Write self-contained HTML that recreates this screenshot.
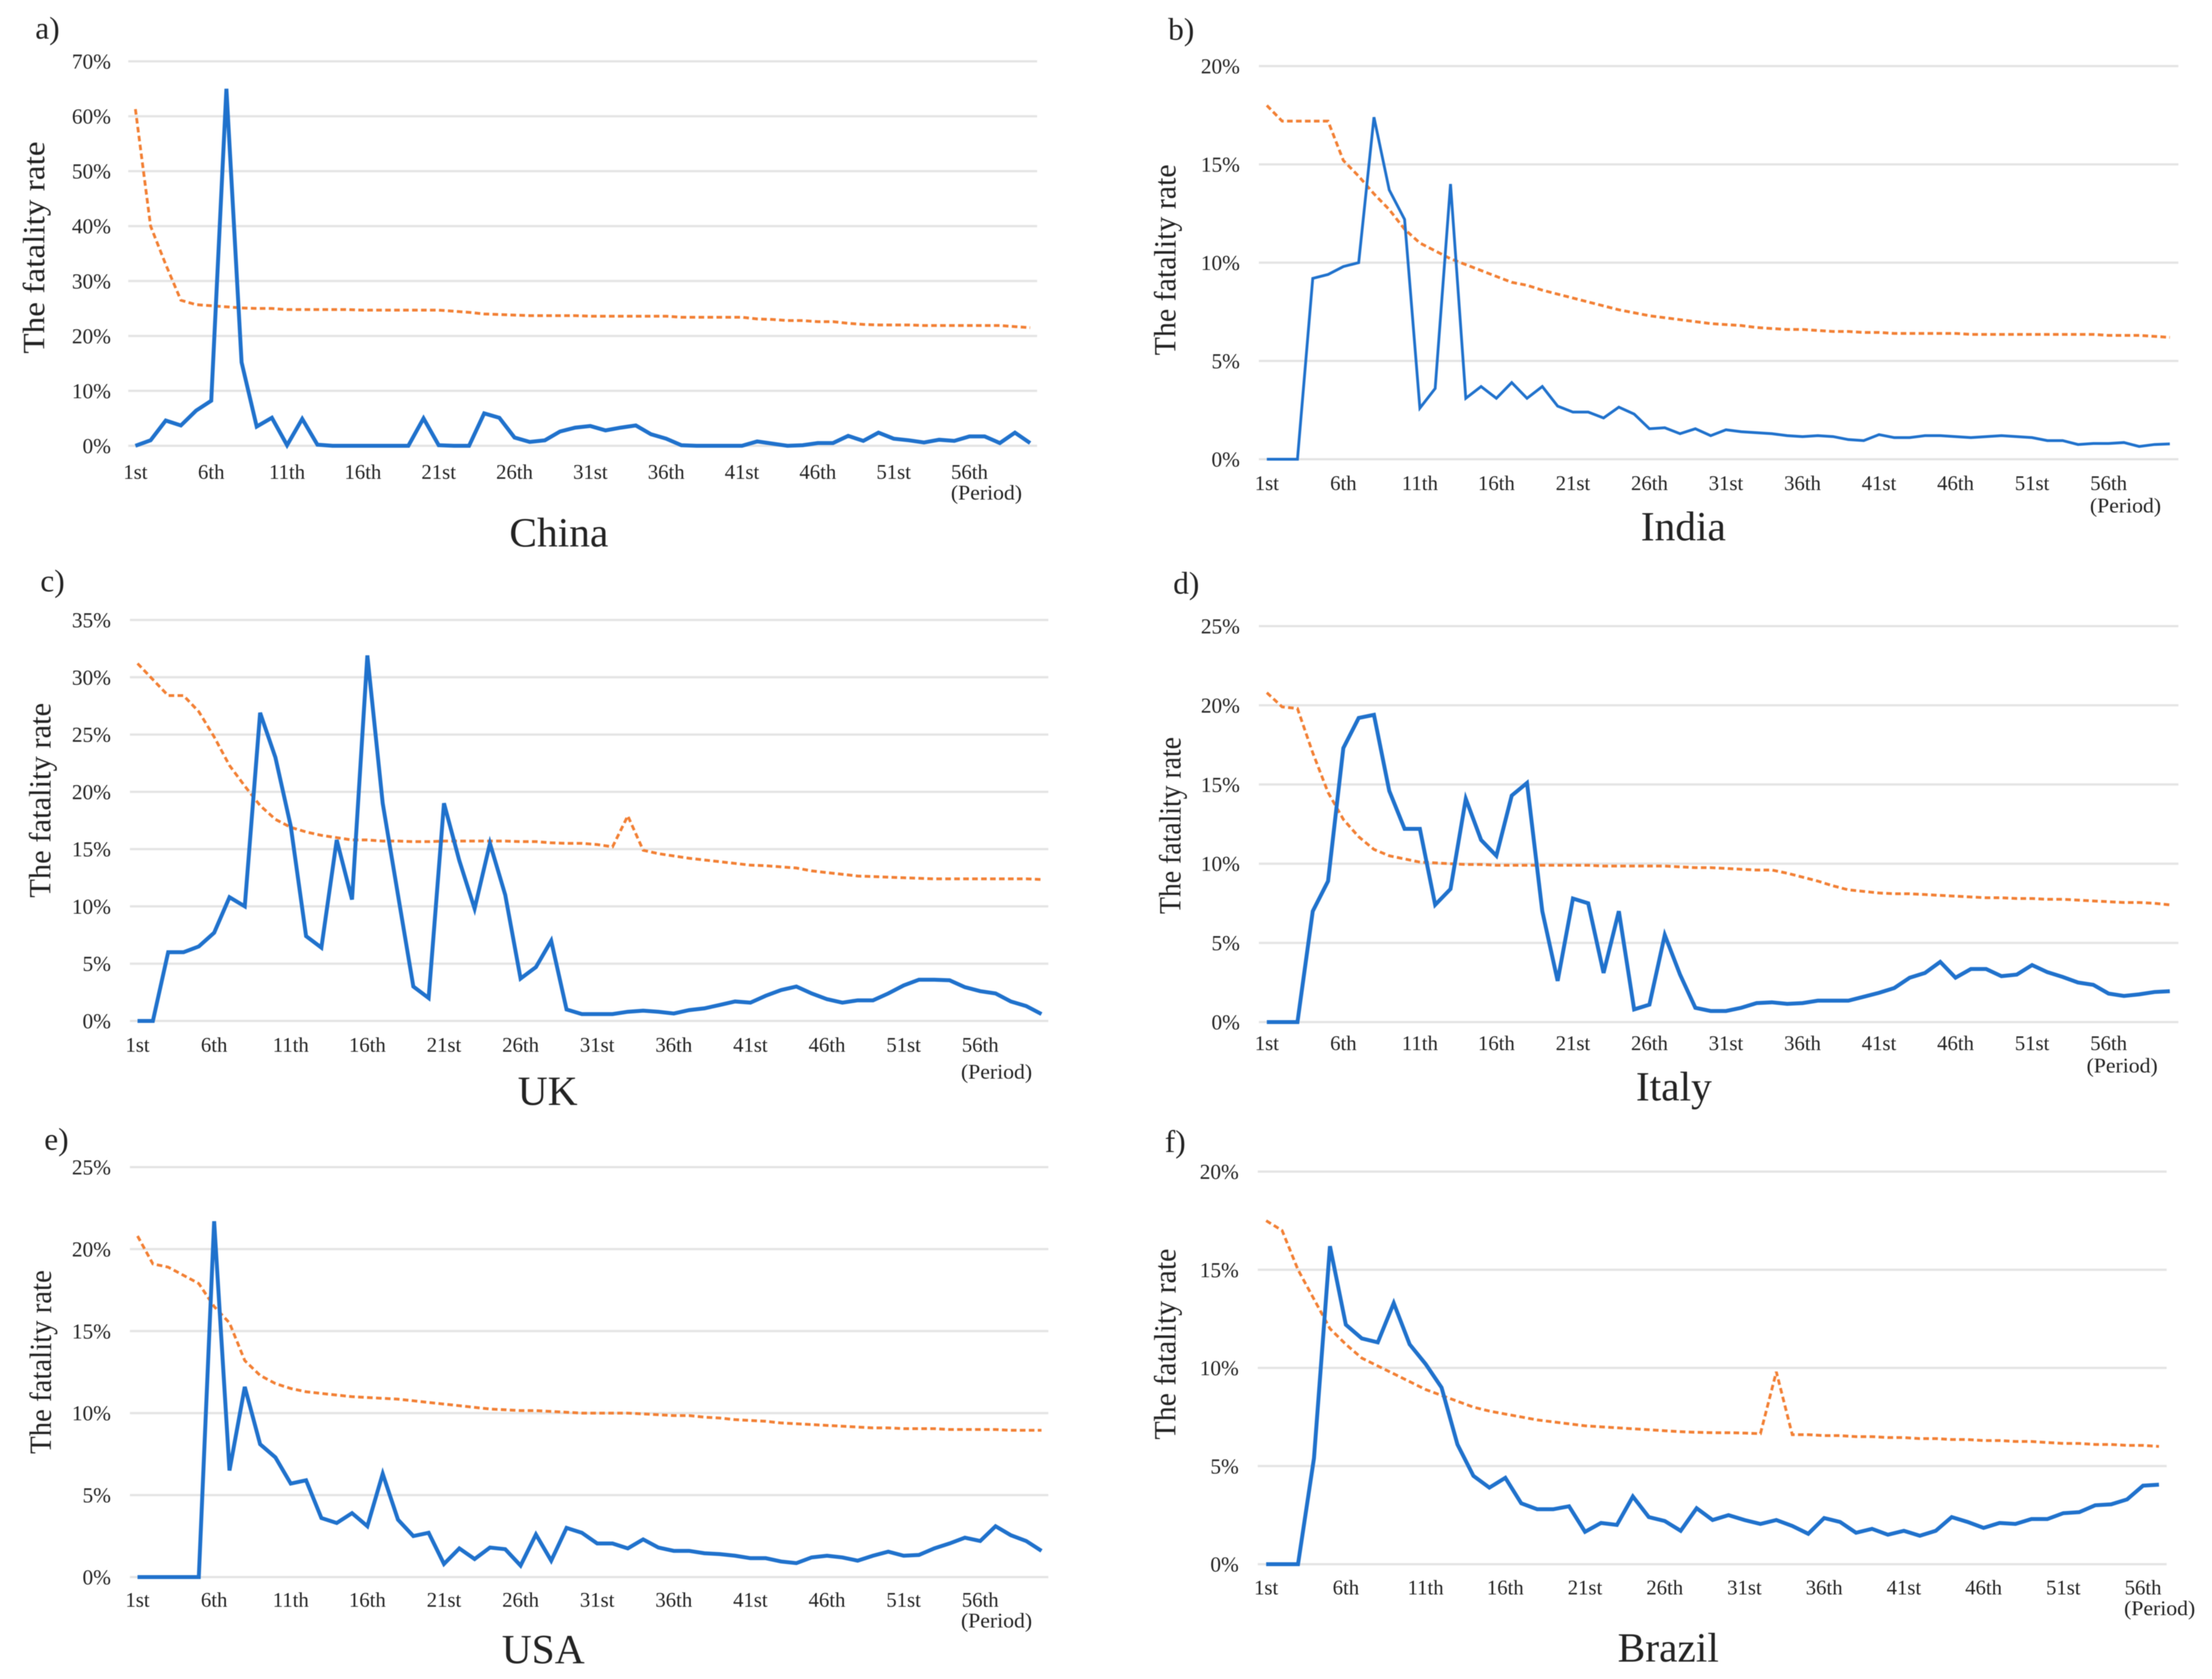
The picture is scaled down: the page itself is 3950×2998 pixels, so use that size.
<!DOCTYPE html>
<html lang="en">
<head>
<meta charset="utf-8">
<title>Fatality rate by period</title>
<style>
html,body{margin:0;padding:0;background:#fff;}
#figure{display:block;width:3950px;height:2998px;filter:blur(0.9px);}
text{font-family:"Liberation Serif",serif;fill:#222;}
</style>
</head>
<body>
<svg id="figure" xmlns="http://www.w3.org/2000/svg" width="3950" height="2998" viewBox="0 0 3950 2998"></svg>
<script>
const periodLabels = ["1st","6th","11th","16th","21st","26th","31st","36th","41st","46th","51st","56th"];
const periodNumbers = [1,6,11,16,21,26,31,36,41,46,51,56];

const chinaTicks = [0,10,20,30,40,50,60,70];
const indiaTicks = [0,5,10,15,20];
const ukTicks = [0,5,10,15,20,25,30,35];
const italyTicks = [0,5,10,15,20,25];
const usaTicks = [0,5,10,15,20,25];
const brazilTicks = [0,5,10,15,20];

const chinaPeriodRate = [0,1,4.6,3.7,6.4,8.2,65,15.2,3.5,5.1,0.1,4.9,0.2,0,0,0,0,0,0,5,0.1,0,0,5.9,5.1,1.5,0.7,1,2.6,3.3,3.6,2.8,3.3,3.7,2.1,1.3,0.1,0,0,0,0,0.8,0.4,0,0.1,0.5,0.5,1.8,0.9,2.4,1.3,1,0.6,1.1,0.9,1.7,1.7,0.5,2.4,0.5];
const chinaCumulativeRate = [61.3,40,33,26.5,25.7,25.5,25.3,25.1,25,25,24.8,24.8,24.8,24.8,24.8,24.7,24.7,24.7,24.7,24.7,24.7,24.5,24.3,24,23.9,23.8,23.7,23.7,23.7,23.7,23.6,23.6,23.6,23.6,23.6,23.6,23.4,23.4,23.4,23.4,23.4,23.1,23,22.8,22.8,22.6,22.6,22.3,22.1,22,22,22,21.9,21.9,21.9,21.9,21.9,21.9,21.7,21.5];

const indiaPeriodRate = [0,0,0,9.2,9.4,9.8,10,17.4,13.7,12.2,2.6,3.6,14,3.1,3.7,3.1,3.9,3.1,3.7,2.7,2.4,2.4,2.1,2.65,2.3,1.55,1.6,1.3,1.55,1.2,1.5,1.4,1.35,1.3,1.2,1.15,1.2,1.15,1.0,0.95,1.25,1.1,1.1,1.2,1.2,1.15,1.1,1.15,1.2,1.15,1.1,0.95,0.95,0.75,0.8,0.8,0.85,0.65,0.75,0.78];
const indiaCumulativeRate = [18,17.2,17.2,17.2,17.2,15.2,14.4,13.5,12.7,11.7,11,10.6,10.2,9.9,9.6,9.3,9,8.85,8.6,8.4,8.2,8,7.8,7.6,7.45,7.3,7.2,7.1,7,6.9,6.85,6.8,6.7,6.65,6.6,6.6,6.55,6.5,6.5,6.45,6.45,6.4,6.4,6.4,6.4,6.4,6.35,6.35,6.35,6.35,6.35,6.35,6.35,6.35,6.35,6.3,6.3,6.3,6.25,6.2];

const ukPeriodRate = [0,0,6,6,6.5,7.7,10.8,10,26.9,23,17,7.4,6.4,15.8,10.6,31.9,19,11,3,2,19,14,9.8,15.5,11,3.7,4.7,7,1,0.6,0.6,0.6,0.8,0.9,0.8,0.65,0.95,1.1,1.4,1.7,1.6,2.2,2.7,3,2.4,1.9,1.6,1.8,1.8,2.4,3.1,3.6,3.6,3.55,2.95,2.6,2.4,1.7,1.3,0.6];
const ukCumulativeRate = [31.2,29.8,28.4,28.4,27,24.8,22.3,20.5,18.8,17.6,16.9,16.5,16.2,16,15.8,15.8,15.7,15.7,15.65,15.65,15.7,15.7,15.7,15.7,15.7,15.65,15.65,15.55,15.5,15.5,15.4,15.2,17.9,14.9,14.6,14.4,14.2,14.05,13.9,13.75,13.6,13.55,13.45,13.35,13.1,12.95,12.8,12.65,12.6,12.55,12.5,12.45,12.4,12.4,12.4,12.4,12.4,12.4,12.4,12.35];

const italyPeriodRate = [0,0,0,7,8.9,17.3,19.2,19.4,14.6,12.2,12.2,7.4,8.4,14.1,11.5,10.5,14.3,15.1,7,2.6,7.8,7.5,3.1,7,0.8,1.1,5.5,3,0.9,0.7,0.7,0.9,1.2,1.25,1.15,1.2,1.35,1.35,1.35,1.6,1.85,2.15,2.8,3.1,3.8,2.8,3.35,3.35,2.9,3,3.6,3.15,2.85,2.5,2.35,1.8,1.65,1.75,1.9,1.95];
const italyCumulativeRate = [20.8,19.9,19.8,17,14.5,12.8,11.7,10.9,10.5,10.3,10.1,10.05,10,9.95,9.95,9.9,9.9,9.9,9.9,9.9,9.9,9.9,9.85,9.85,9.85,9.85,9.85,9.8,9.75,9.75,9.7,9.65,9.6,9.6,9.4,9.15,8.9,8.6,8.35,8.25,8.15,8.1,8.1,8.05,8,7.95,7.9,7.85,7.85,7.8,7.8,7.75,7.75,7.7,7.65,7.6,7.55,7.55,7.5,7.4];

const usaPeriodRate = [0,0,0,0,0,21.7,6.5,11.6,8.1,7.3,5.7,5.9,3.6,3.3,3.9,3.1,6.3,3.5,2.5,2.7,0.8,1.75,1.1,1.8,1.7,0.7,2.6,1,3,2.7,2.05,2.05,1.75,2.3,1.8,1.6,1.6,1.45,1.4,1.3,1.15,1.15,0.95,0.85,1.2,1.3,1.2,1,1.3,1.55,1.3,1.35,1.75,2.05,2.4,2.2,3.1,2.55,2.2,1.6];
const usaCumulativeRate = [20.8,19.1,18.9,18.4,17.9,16.5,15.5,13.2,12.3,11.8,11.5,11.3,11.2,11.1,11,10.95,10.9,10.85,10.75,10.65,10.55,10.45,10.35,10.25,10.2,10.15,10.15,10.1,10.05,10,10,10,10,9.95,9.9,9.85,9.85,9.75,9.7,9.6,9.55,9.5,9.4,9.35,9.3,9.25,9.2,9.15,9.1,9.1,9.05,9.05,9.05,9,9,9,9,8.95,8.95,8.95];

const brazilPeriodRate = [0,0,0,5.4,16.2,12.2,11.5,11.3,13.3,11.2,10.2,9,6.1,4.5,3.9,4.4,3.1,2.8,2.8,2.95,1.65,2.1,2,3.45,2.4,2.2,1.7,2.85,2.25,2.5,2.25,2.05,2.25,1.95,1.55,2.35,2.15,1.6,1.8,1.5,1.7,1.45,1.7,2.4,2.15,1.85,2.1,2.05,2.3,2.3,2.6,2.65,3,3.05,3.3,4,4.05];
const brazilCumulativeRate = [17.5,17,15,13.5,12,11.2,10.5,10.1,9.7,9.3,8.9,8.6,8.3,8,7.8,7.65,7.5,7.35,7.25,7.15,7.05,7,6.95,6.9,6.85,6.8,6.75,6.72,6.7,6.7,6.68,6.65,9.8,6.6,6.6,6.55,6.55,6.5,6.5,6.45,6.45,6.4,6.4,6.35,6.35,6.3,6.3,6.25,6.25,6.2,6.15,6.15,6.1,6.1,6.05,6.05,6];

const svgNS = "http://www.w3.org/2000/svg";
const figure = document.getElementById("figure");

function makeText(parent, content, x, y, size, anchor) {
  const t = document.createElementNS(svgNS, "text");
  t.setAttribute("x", x);
  t.setAttribute("y", y);
  t.setAttribute("font-size", size);
  t.setAttribute("text-anchor", anchor);
  t.textContent = content;
  parent.appendChild(t);
  return t;
}

function drawPanel(cfg, rate, cumulative, ticks) {
  const g = document.createElementNS(svgNS, "g");
  
  
  figure.appendChild(g);

  const maxTick = ticks[ticks.length - 1];
  const yScale = v => cfg.yZero - (v / maxTick) * (cfg.yZero - cfg.yTop);
  const xScale = p => cfg.x0 + (p - 1) * cfg.step;

  ticks.forEach(v => {
    const line = document.createElementNS(svgNS, "line");
    
    
    line.setAttribute("x1", cfg.gridL);
    line.setAttribute("x2", cfg.gridR);
    line.setAttribute("y1", yScale(v));
    line.setAttribute("y2", yScale(v));
    line.setAttribute("stroke", "#e4e4e4");
    line.setAttribute("stroke-width", 4);
    g.appendChild(line);
    const label = makeText(g, v + "%", cfg.tickR, yScale(v) + 13, 38, "end");
    
    
  });

  periodLabels.forEach((name, i) => {
    const label = makeText(g, name, xScale(periodNumbers[i]), cfg.xBase, 37, "middle");
    
    
  });

  const toPoints = arr => arr.map((v, i) => xScale(i + 1).toFixed(1) + "," + yScale(v).toFixed(1)).join(" ");

  const cumLine = document.createElementNS(svgNS, "polyline");
  
  
  cumLine.setAttribute("points", toPoints(cumulative));
  cumLine.setAttribute("fill", "none");
  cumLine.setAttribute("stroke", "#f27f33");
  cumLine.setAttribute("stroke-width", 5);
  cumLine.setAttribute("stroke-dasharray", "10 6");
  g.appendChild(cumLine);

  const rateLine = document.createElementNS(svgNS, "polyline");
  
  
  rateLine.setAttribute("points", toPoints(rate));
  rateLine.setAttribute("fill", "none");
  rateLine.setAttribute("stroke", "#1f71cc");
  rateLine.setAttribute("stroke-width", cfg.lineW);
  rateLine.setAttribute("stroke-linejoin", "miter");
  g.appendChild(rateLine);

  const period = makeText(g, "(Period)", cfg.periodL, cfg.periodBase, 37, "start");
  
  
  period.setAttribute("textLength", 127);
  period.setAttribute("lengthAdjust", "spacingAndGlyphs");

  const yTitle = makeText(g, "The fatality rate", 0, 0, 55, "middle");
  
  
  yTitle.setAttribute("transform", "translate(" + cfg.titleX + "," + cfg.titleY + ") rotate(-90)");
  yTitle.setAttribute("textLength", cfg.titleLen);
  yTitle.setAttribute("lengthAdjust", "spacingAndGlyphs");

  const country = makeText(g, cfg.country, cfg.countryX, cfg.countryBase, 74, "middle");
  
  

  const letter = makeText(g, cfg.letter, cfg.letterX, cfg.letterBase, 56, "start");
  
  
}

drawPanel({key:"china",country:"China",letter:"a)",x0:241.8,step:27.08,gridL:229,gridR:1852,yTop:109.5,yZero:796,tickR:198,xBase:855,periodL:1698,periodBase:892,titleX:79,titleY:442,titleLen:379,countryX:998,countryBase:976,letterX:63,letterBase:69,lineW:7}, chinaPeriodRate, chinaCumulativeRate, chinaTicks);
drawPanel({key:"india",country:"India",letter:"b)",x0:2262.2,step:27.33,gridL:2248,gridR:3890,yTop:118,yZero:820,tickR:2214,xBase:875,periodL:3732,periodBase:915,titleX:2099,titleY:464,titleLen:341,countryX:3006,countryBase:965,letterX:2086,letterBase:71,lineW:5}, indiaPeriodRate, indiaCumulativeRate, indiaTicks);
drawPanel({key:"uk",country:"UK",letter:"c)",x0:245.6,step:27.36,gridL:232,gridR:1872,yTop:1107,yZero:1823,tickR:198,xBase:1878,periodL:1716,periodBase:1926,titleX:90,titleY:1429,titleLen:348,countryX:978,countryBase:1973,letterX:72,letterBase:1056,lineW:7}, ukPeriodRate, ukCumulativeRate, ukTicks);
drawPanel({key:"italy",country:"Italy",letter:"d)",x0:2262.2,step:27.33,gridL:2248,gridR:3890,yTop:1118,yZero:1825,tickR:2214,xBase:1875,periodL:3726,periodBase:1915,titleX:2108,titleY:1474,titleLen:316,countryX:2989,countryBase:1965,letterX:2095,letterBase:1060,lineW:7}, italyPeriodRate, italyCumulativeRate, italyTicks);
drawPanel({key:"usa",country:"USA",letter:"e)",x0:245.6,step:27.36,gridL:232,gridR:1872,yTop:2084,yZero:2816,tickR:198,xBase:2869,periodL:1716,periodBase:2906,titleX:91,titleY:2432,titleLen:328,countryX:970,countryBase:2970,letterX:79,letterBase:2053,lineW:7}, usaPeriodRate, usaCumulativeRate, usaTicks);
drawPanel({key:"brazil",country:"Brazil",letter:"f)",x0:2261,step:28.47,gridL:2246,gridR:3869,yTop:2092,yZero:2793,tickR:2212,xBase:2847,periodL:3793,periodBase:2884,titleX:2099,titleY:2400,titleLen:341,countryX:2979,countryBase:2967,letterX:2080,letterBase:2057,lineW:7}, brazilPeriodRate, brazilCumulativeRate, brazilTicks);
</script>
</body>
</html>
